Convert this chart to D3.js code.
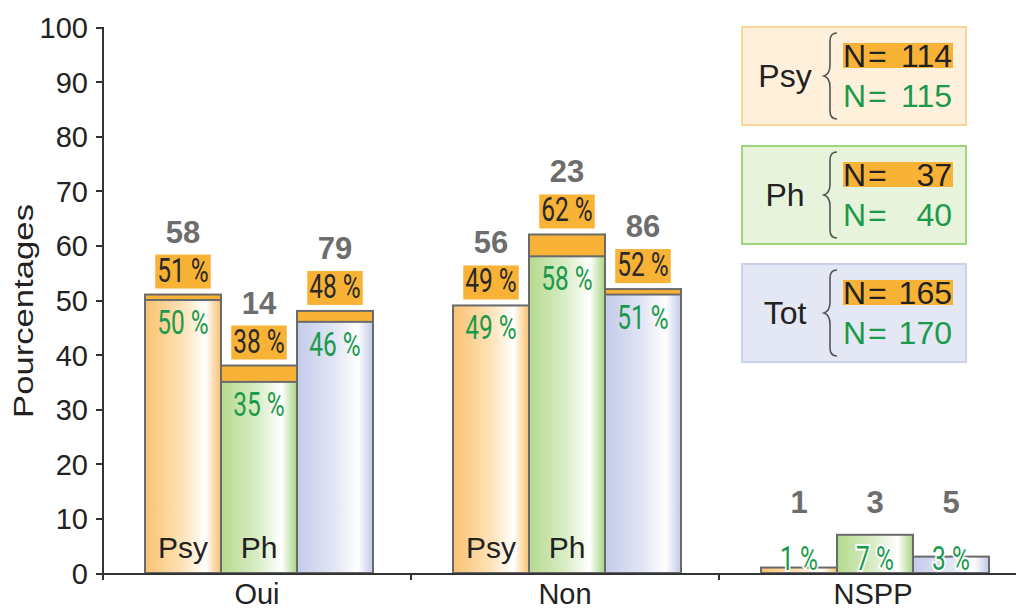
<!doctype html>
<html>
<head>
<meta charset="utf-8">
<style>
  body { margin:0; background:#fff; }
  svg { display:block; font-family:"Liberation Sans", Arial, sans-serif; }
  .axis path, .axis line { stroke:#333; stroke-width:2; shape-rendering:crispEdges; }
  .axis text { font-size:29px; fill:#222; font-family:"Liberation Sans", Arial, sans-serif; }
  .pct { font-family:Roboto, "Liberation Sans", sans-serif; font-weight:400; font-size:34px; text-anchor:middle; }
  .count { font-size:31px; font-weight:bold; fill:#6d6d6d; text-anchor:middle; }
  .barname { font-size:30px; fill:#222; text-anchor:middle; }
  .leg { font-size:32px; }
</style>
<script src="https://cdn.jsdelivr.net/npm/d3@7"></script>
</head>
<body>
<script>
// data
var categories = ["Oui", "Non", "NSPP"];
var groups = ["Psy", "Ph", "Tot"];
var pctFirst  = [[51, 38, 48], [49, 62, 52], [null, null, null]];   // orange (N=114 / 37 / 165)
var pctSecond = [[50, 35, 46], [49, 58, 51], [1, 7, 3]];            // green (N=115 / 40 / 170)
var counts    = [[58, 14, 79], [56, 23, 86], [1, 3, 5]];
var nFirst  = [114, 37, 165];
var nSecond = [115, 40, 170];
var yTicks = [0, 10, 20, 30, 40, 50, 60, 70, 80, 90, 100];

// colours
var orange = "#f8b236", green = "#1c9a4b", outline = "#6a6a6a";
var grad = {
  Psy: ["#f9c272", "#fde3b8", "#ffffff", "#f8bf6c"],
  Ph:  ["#b4da8e", "#dbeec8", "#ffffff", "#a8d483"],
  Tot: ["#c4cbea", "#e2e6f5", "#ffffff", "#c1c8e8"]
};
var legFill = { Psy: "#fef0da", Ph: "#e7f3db", Tot: "#e4e7f4" };
var legStroke = { Psy: "#fbd497", Ph: "#9fd67c", Tot: "#cbd1ec" };

var W = 1016, H = 610;
var svg = d3.select("body").append("svg").attr("width", W).attr("height", H);

var x = d3.scaleBand().domain(categories).range([103, 1027]);
var xIn = d3.scaleBand().domain(groups).range([42, 270]);
var y = d3.scaleLinear().domain([0, 100]).range([573, 27]);

// squeeze a text horizontally (the original uses a condensed face)
function squeeze(sel, k) {
  sel.each(function() {
    var len = this.getComputedTextLength();
    d3.select(this).attr("textLength", len * k).attr("lengthAdjust", "spacingAndGlyphs");
  });
}

// gradients
var defs = svg.append("defs");
groups.forEach(function(g) {
  var lg = defs.append("linearGradient").attr("id", "grad-" + g)
    .attr("x1", "0%").attr("x2", "100%").attr("y1", "0%").attr("y2", "0%");
  [0, 0.5, 0.8, 1].forEach(function(o, i) {
    lg.append("stop").attr("offset", o).attr("stop-color", grad[g][i]);
  });
});

// flatten rows
var rows = [];
categories.forEach(function(c, ci) {
  groups.forEach(function(g, gi) {
    rows.push({ cat: c, grp: g, ci: ci, gi: gi,
      first: pctFirst[ci][gi], second: pctSecond[ci][gi], count: counts[ci][gi] });
  });
});
function bx(d) { return x(d.cat) + xIn(d.grp); }
function cx(d) { return bx(d) + xIn.bandwidth() / 2; }

// outer (orange) bars
svg.append("g").selectAll("rect")
  .data(rows.filter(function(d) { return d.first != null && d.first > d.second; }))
  .enter().append("rect")
  .attr("x", bx).attr("width", xIn.bandwidth())
  .attr("y", function(d) { return y(d.first); })
  .attr("height", function(d) { return y(0) - y(d.first); })
  .attr("fill", orange).attr("stroke", outline).attr("stroke-width", 2);

// inner (green survey) bars
svg.append("g").selectAll("rect")
  .data(rows).enter().append("rect")
  .attr("x", bx).attr("width", xIn.bandwidth())
  .attr("y", function(d) { return y(d.second); })
  .attr("height", function(d) { return y(0) - y(d.second); })
  .attr("fill", function(d) { return "url(#grad-" + d.grp + ")"; })
  .attr("stroke", outline).attr("stroke-width", 2);

// names inside bars
svg.append("g").selectAll("text")
  .data(rows.filter(function(d) { return d.second >= 10 && d.grp != "Tot"; }))
  .enter().append("text").attr("class", "barname")
  .attr("x", cx)
  .attr("y", y(0) - 15)
  .text(function(d) { return d.grp; });

// axes
var yAxis = svg.append("g").attr("class", "axis")
  .attr("transform", "translate(103,0)")
  .call(d3.axisLeft(y).tickValues(yTicks).tickSize(7).tickSizeOuter(0).tickPadding(8));
yAxis.select(".domain").attr("d", "M0," + y(100) + "V" + (y(0) + 7));
yAxis.selectAll(".tick text").attr("dy", "0.36em");

var xAxis = svg.append("g").attr("class", "axis")
  .attr("transform", "translate(0," + y(0) + ")")
  .call(d3.axisBottom(x).tickSize(0).tickPadding(10));
xAxis.selectAll(".sep").data(categories).enter().append("line")
  .attr("x1", function(c) { return x(c); }).attr("x2", function(c) { return x(c); })
  .attr("y1", 0).attr("y2", 7).attr("stroke", "#333").attr("stroke-width", 2);

svg.append("text")
  .attr("transform", "translate(33,311) rotate(-90)")
  .attr("text-anchor", "middle")
  .attr("font-size", 27).attr("fill", "#222")
  .attr("textLength", 214).attr("lengthAdjust", "spacingAndGlyphs")
  .text("Pourcentages");

// orange percentage labels with highlight
var firstRows = rows.filter(function(d) { return d.first != null; });
var fl = svg.append("g").selectAll("g").data(firstRows).enter().append("g");
fl.append("rect").attr("fill", orange);
fl.append("text").attr("class", "pct").attr("fill", "#2a2a2a")
  .attr("x", cx)
  .attr("y", function(d) { return y(d.first) - 13; })
  .text(function(d) { return d.first + " %"; })
  .call(squeeze, 0.72);
fl.each(function() {
  var g = d3.select(this);
  var b = g.select("text").node().getBBox();
  g.select("rect").attr("x", b.x - 2).attr("width", b.width + 4)
    .attr("y", b.y + 5).attr("height", b.height - 6);
});

// green percentage labels
svg.append("g").selectAll("text")
  .data(rows).enter().append("text").attr("class", "pct")
  .attr("fill", green)
  .attr("x", cx)
  .attr("y", function(d) { return d.second >= 10 ? y(d.second) + 34 : y(0) - 3; })
  .attr("stroke", function(d) { return d.second >= 10 ? null : "#fff"; })
  .attr("stroke-width", 4).attr("paint-order", "stroke")
  .text(function(d) { return d.second + " %"; })
  .call(squeeze, 0.72);

// counts
svg.append("g").selectAll("text")
  .data(rows).enter().append("text").attr("class", "count")
  .attr("x", cx)
  .attr("y", function(d) {
    if (d.first != null) return y(d.first) - 52;
    return y(d3.max(pctSecond[d.ci])) - 22;
  })
  .text(function(d) { return d.count; });

// legend boxes
var legTop = [27, 146, 264];
var leg = svg.append("g").selectAll("g").data(groups).enter().append("g")
  .attr("transform", function(g, i) { return "translate(742," + legTop[i] + ")"; });
leg.append("rect").attr("width", 224).attr("height", 98)
  .attr("fill", function(g) { return legFill[g]; })
  .attr("stroke", function(g) { return legStroke[g]; }).attr("stroke-width", 2);
leg.append("text").attr("class", "leg").attr("x", 43).attr("y", 60)
  .attr("text-anchor", "middle").attr("fill", "#222").text(function(g) { return g; });
leg.append("path")
  .attr("d", "M95,6 Q88,6 88,14 L88,38 Q88,47 82,49 Q88,51 88,60 L88,84 Q88,92 95,92")
  .attr("fill", "none").attr("stroke", "#555").attr("stroke-width", 1.6);
leg.append("rect").attr("x", 101).attr("y", 16).attr("width", 110).attr("height", 25)
  .attr("fill", orange);
leg.append("text").attr("class", "leg").attr("x", 101).attr("y", 40)
  .attr("fill", "#222").attr("letter-spacing", 2).text("N=");
leg.append("text").attr("class", "leg").attr("x", 210).attr("y", 40)
  .attr("fill", "#222").attr("text-anchor", "end").text(function(g, i) { return nFirst[i]; });
leg.append("text").attr("class", "leg").attr("x", 101).attr("y", 80)
  .attr("fill", green).attr("letter-spacing", 2).text("N=");
leg.append("text").attr("class", "leg").attr("x", 210).attr("y", 80)
  .attr("fill", green).attr("text-anchor", "end").text(function(g, i) { return nSecond[i]; });
</script>
</body>
</html>
